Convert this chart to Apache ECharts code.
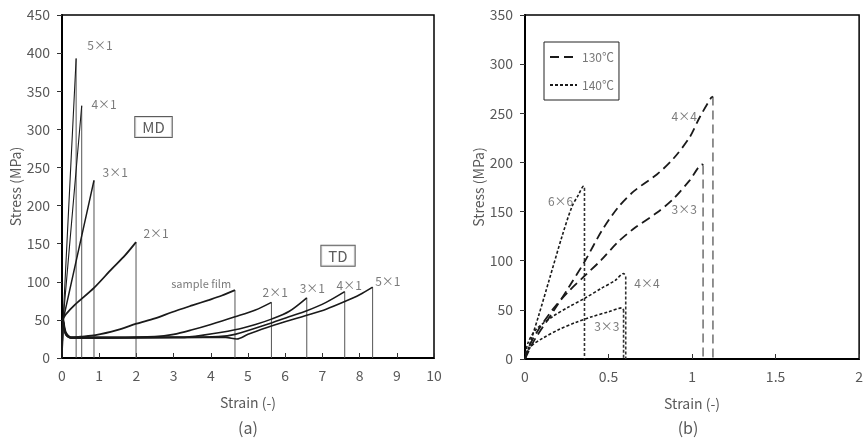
<!DOCTYPE html>
<html>
<head>
<meta charset="utf-8">
<script src="https://cdn.jsdelivr.net/npm/echarts@6/dist/echarts.min.js"></script>
<style>
  html, body { margin: 0; padding: 0; background: #fff; }
  #chart { width: 866px; height: 442px; }
</style>
</head>
<body>
<div id="chart"></div>
<script>
// ---------- (a) uniaxially stretched films: strain (-) vs stress (MPa) ----------
// machine direction (MD)
const md5x1 = [[0,0],[0.03,50],[0.38,393]];
const md4x1 = [[0,0],[0.03,50],[0.53,331]];
const md3x1 = [[0,0],[0.03,50],[0.86,233]];
const md2x1 = [[0,0],[0.03,50],[0.1,57],[0.35,70],[0.86,92],[1.34,117],[1.7,135],[1.99,152]];
// transverse direction (TD)
const tdSample = [[0,0],[0.03,52],[0.1,34],[0.25,27],[0.5,28],[0.9,30],[1.5,37],[2.0,45],[2.5,52],[2.95,60],[3.5,69],[3.94,76],[4.3,82],[4.65,89]];
const td2x1 = [[0,0],[0.03,50],[0.1,33],[0.25,27],[1.5,27],[2.5,28],[3.0,31],[3.5,37],[4.0,44],[4.65,54],[5.2,63],[5.63,73]];
const td3x1 = [[0,0],[0.03,49],[0.1,32],[0.25,27],[2.5,27],[3.2,27],[3.8,30],[4.65,37],[5.2,44],[5.63,51],[6.1,61],[6.58,79]];
const td4x1 = [[0,0],[0.03,48],[0.1,31],[0.25,26],[3.0,27],[4.2,28],[4.65,31],[5.63,46],[6.1,54],[6.58,62],[7.1,73],[7.6,87]];
const td5x1 = [[0,0],[0.03,48],[0.1,31],[0.25,26],[3.0,27],[4.4,27],[4.7,25],[5.0,31],[5.63,42],[6.58,56],[7.1,64],[7.6,74],[8.0,83],[8.35,93]];

// text annotations: [strain, stress, text]
const notesA = [
  [1.02,410,'5×1'],[1.13,333,'4×1'],[1.43,243,'3×1'],[2.53,164,'2×1'],
  [5.73,86,'2×1'],[6.73,91,'3×1'],[7.72,95,'4×1'],[8.76,101,'5×1']
];
const filmNote = [[3.74,97,'sample film']];
const boxesA = [[2.46,303,'MD'],[7.42,134,'TD']];

// ---------- (b) biaxially stretched films ----------
const t130_4x4 = [[0,0],[0.03,11],[0.066,22],[0.164,47],[0.262,73],[0.36,100],[0.458,130],[0.556,154],[0.654,171],[0.791,188],[0.889,204],[0.987,226],[1.046,246],[1.115,266],[1.125,267]];
const t130_3x3 = [[0,0],[0.02,11],[0.066,26],[0.164,50],[0.262,69],[0.36,85],[0.458,101],[0.556,119],[0.654,133],[0.791,149],[0.889,163],[0.987,182],[1.062,198],[1.066,197]];
const t140_6x6 = [[0,0],[0.036,19],[0.085,46],[0.144,80],[0.222,125],[0.281,155],[0.32,167],[0.352,176],[0.356,174]];
const t140_4x4 = [[0,0],[0.017,16],[0.066,30],[0.164,43],[0.262,53],[0.36,62],[0.458,72],[0.54,80],[0.59,87],[0.603,84]];
const t140_3x3 = [[0,0],[0.02,9],[0.05,15],[0.105,21],[0.203,30],[0.3,37],[0.4,43],[0.5,48],[0.58,52],[0.59,50]];

const notesB = [
  [0.953,247,'4×4'],[0.953,152,'3×3'],[0.213,160,'6×6'],[0.73,77,'4×4'],[0.49,33,'3×3']
];

const xTicksA = { min: 0, max: 10, interval: 1 };
const yTicksA = { min: 0, max: 450, interval: 50 };
const xTicksB = { min: 0, max: 2, interval: 0.5 };
const yTicksB = { min: 0, max: 350, interval: 50 };

const FONT = '"Noto Sans CJK JP", "Noto Sans", sans-serif';
const GREY = '#595959';

// vertical fracture line from the last point of a curve down to zero stress
function dropOf(curve) {
  const p = curve[curve.length - 1];
  return [[p[0], p[1]], [p[0], 0]];
}

function curve(data, idx, width, extra) {
  return Object.assign({
    type: 'line', xAxisIndex: idx, yAxisIndex: idx, data: data,
    symbol: 'none', smooth: 0.3, animation: false,
    itemStyle: { color: '#1a1a1a' },
    lineStyle: { color: '#1a1a1a', width: width }, z: 3
  }, extra || {});
}
function drop(data, idx, style) {
  return {
    type: 'line', xAxisIndex: idx, yAxisIndex: idx, data: dropOf(data),
    symbol: 'none', animation: false, silent: true,
    lineStyle: style, z: 2
  };
}
function notes(data, idx, fontSize, boxed) {
  return {
    type: 'scatter', xAxisIndex: idx, yAxisIndex: idx, data: data,
    symbolSize: 0, silent: true, animation: false, z: 5,
    label: Object.assign({
      show: true, position: [0, 0], align: 'center', verticalAlign: 'middle',
      formatter: p => p.data[2], color: GREY, fontSize: fontSize, fontFamily: FONT
    }, boxed ? { borderColor: '#333', borderWidth: 1, padding: [3, 7, 2, 7], backgroundColor: '#fff', color: '#333' } : {})
  };
}

const thin = { color: '#555', width: 1 };
const dash130 = { color: '#777', width: 1.6, type: [9, 5] };
const dot140 = { color: '#333', width: 1.6, type: [3, 2] };

function xAxis(idx, t) {
  return {
    type: 'value', gridIndex: idx, min: t.min, max: t.max, interval: t.interval,
    name: 'Strain (-)', nameLocation: 'middle', nameGap: 38,
    nameTextStyle: { color: GREY, fontSize: 14, fontFamily: FONT },
    axisLine: { show: true, onZero: false, lineStyle: { color: '#000', width: 2 } },
    axisTick: { show: true, inside: true, length: 5, lineStyle: { color: '#333' } },
    axisLabel: { color: GREY, fontSize: 14, fontFamily: FONT, margin: 11 },
    splitLine: { show: false }
  };
}
function yAxis(idx, t, gap) {
  return {
    type: 'value', gridIndex: idx, min: t.min, max: t.max, interval: t.interval,
    name: 'Stress (MPa)', nameLocation: 'middle', nameGap: gap, nameRotate: 90,
    nameTextStyle: { color: GREY, fontSize: 14, fontFamily: FONT },
    axisLine: { show: true, onZero: false, lineStyle: { color: '#000', width: 2 } },
    axisTick: { show: true, inside: false, length: 5, lineStyle: { color: '#333' } },
    axisLabel: { color: GREY, fontSize: 14, fontFamily: FONT, margin: 12 },
    splitLine: { show: false }
  };
}

const chart = echarts.init(document.getElementById('chart'), null, { renderer: 'canvas' });

chart.setOption({
  backgroundColor: '#fff',
  animation: false,
  grid: [
    { left: 62, top: 15, width: 372, height: 343, show: true, borderColor: '#000', borderWidth: 1.5 },
    { left: 525, top: 15, width: 340, height: 344, show: true, borderColor: '#000', borderWidth: 1.5 }
  ],
  xAxis: [xAxis(0, xTicksA), xAxis(1, xTicksB)],
  yAxis: [yAxis(0, yTicksA, 38), yAxis(1, yTicksB, 37)],
  legend: {
    data: ['130℃', '140℃'],
    left: 544, top: 42, orient: 'vertical',
    padding: [9, 5, 9, 5], itemGap: 16, itemWidth: 27, itemHeight: 14,
    borderColor: '#222', borderWidth: 1, backgroundColor: '#fff',
    itemStyle: { opacity: 0 },
    textStyle: { color: '#777', fontSize: 12, fontFamily: FONT },
    selectedMode: false
  },
  graphic: [
    { type: 'text', x: 248, y: 428, style: { text: '(a)', fontSize: 16, fontFamily: FONT, fill: GREY, textAlign: 'center', textVerticalAlign: 'middle' } },
    { type: 'text', x: 688, y: 428, style: { text: '(b)', fontSize: 16, fontFamily: FONT, fill: GREY, textAlign: 'center', textVerticalAlign: 'middle' } }
  ],
  series: [
    // (a) MD
    curve(md5x1, 0, 1.1, { smooth: false }), drop(md5x1, 0, thin),
    curve(md4x1, 0, 1.1, { smooth: false }), drop(md4x1, 0, thin),
    curve(md3x1, 0, 1.5, { smooth: false }), drop(md3x1, 0, thin),
    curve(md2x1, 0, 1.8), drop(md2x1, 0, thin),
    // (a) TD
    curve(tdSample, 0, 1.8), drop(tdSample, 0, thin),
    curve(td2x1, 0, 1.6), drop(td2x1, 0, thin),
    curve(td3x1, 0, 1.6), drop(td3x1, 0, thin),
    curve(td4x1, 0, 1.6), drop(td4x1, 0, thin),
    curve(td5x1, 0, 1.6), drop(td5x1, 0, thin),
    notes(notesA, 0, 12, false),
    notes(filmNote, 0, 11, false),
    notes(boxesA, 0, 15, true),
    // (b)
    curve(t130_4x4, 1, 1.8, { name: '130℃', lineStyle: { color: '#1a1a1a', width: 1.8, type: [9, 5] } }),
    drop(t130_4x4, 1, dash130),
    curve(t130_3x3, 1, 1.8, { name: '130℃', lineStyle: { color: '#1a1a1a', width: 1.8, type: [9, 5] } }),
    drop(t130_3x3, 1, dash130),
    curve(t140_6x6, 1, 1.6, { name: '140℃', lineStyle: { color: '#1a1a1a', width: 1.6, type: [3, 2] } }),
    drop(t140_6x6, 1, dot140),
    curve(t140_4x4, 1, 1.6, { name: '140℃', lineStyle: { color: '#1a1a1a', width: 1.6, type: [3, 2] } }),
    drop(t140_4x4, 1, dot140),
    curve(t140_3x3, 1, 1.6, { name: '140℃', lineStyle: { color: '#1a1a1a', width: 1.6, type: [3, 2] } }),
    drop(t140_3x3, 1, dot140),
    notes(notesB, 1, 12, false)
  ]
});
</script>
</body>
</html>
